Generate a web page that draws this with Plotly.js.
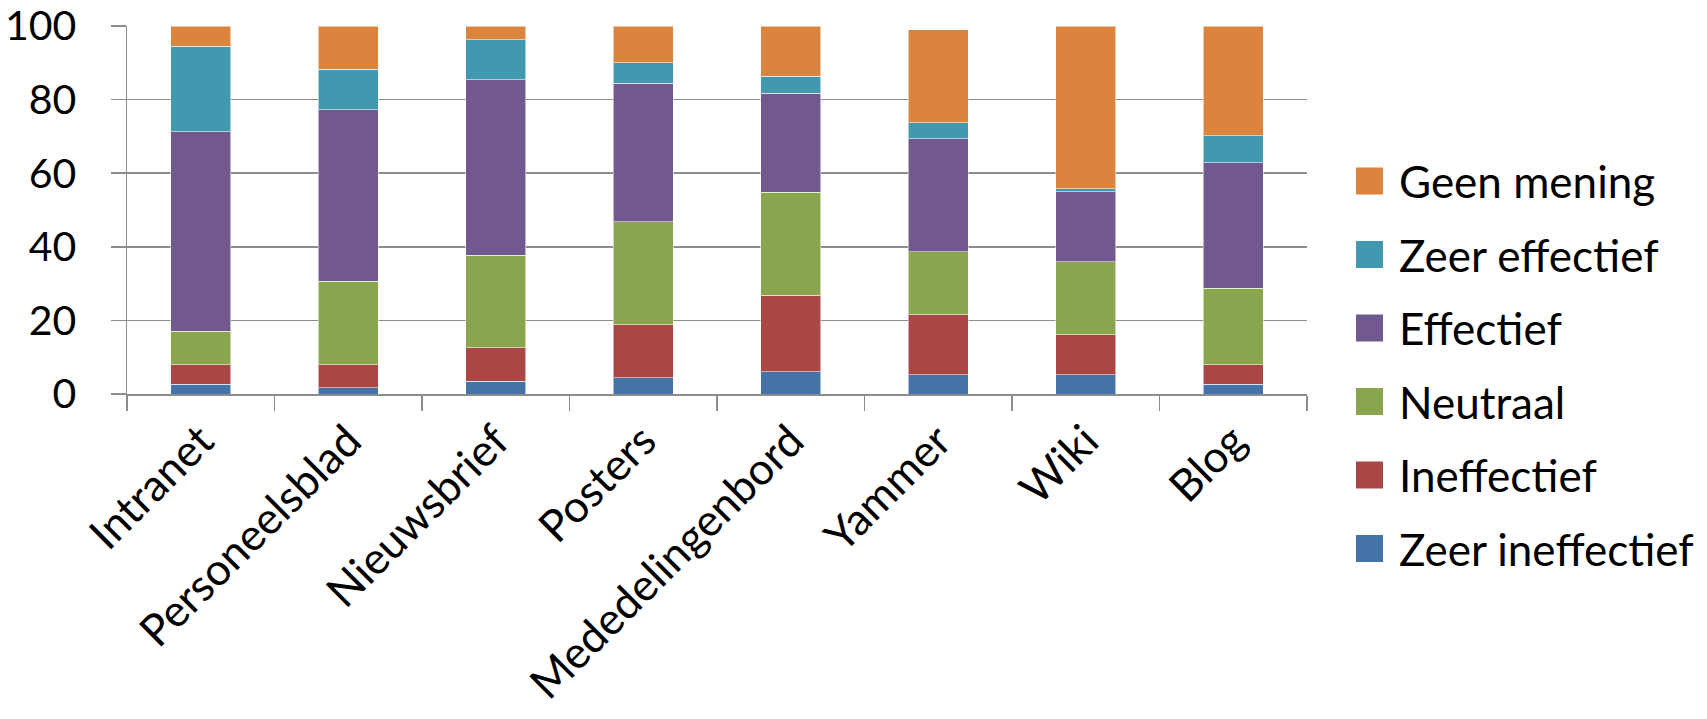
<!DOCTYPE html>
<html>
<head>
<meta charset="utf-8">
<script src="https://cdn.plot.ly/plotly-3.0.1.min.js"></script>
<style>
  html, body { margin: 0; padding: 0; background: #ffffff; }
  #chart { width: 1707px; height: 719px; }
</style>
</head>
<body>
<div id="chart"></div>
<script>
// Communication channels and how effective respondents rate them (percent)
const channels = ["Intranet", "Personeelsblad", "Nieuwsbrief", "Posters",
                  "Mededelingenbord", "Yammer", "Wiki", "Blog"];

const zeerIneffectief = [2.6, 1.7, 3.5, 4.4, 6.1, 5.3, 5.3, 2.6];
const ineffectief     = [5.4, 6.3, 9.1, 14.4, 20.8, 16.3, 10.8, 5.4];
const neutraal        = [9.0, 22.6, 25.1, 28.0, 27.9, 17.1, 19.8, 20.8];
const effectief       = [54.2, 46.7, 47.7, 37.6, 26.9, 30.6, 19.0, 34.0];
const zeerEffectief   = [23.3, 10.9, 10.8, 5.6, 4.6, 4.4, 0.9, 7.4];
const geenMening      = [5.5, 11.8, 3.8, 10.0, 13.7, 25.3, 44.2, 29.8];

const yTicks = [0, 20, 40, 60, 80, 100];

const series = [
  { name: "Zeer ineffectief", values: zeerIneffectief, color: "#4572A7" },
  { name: "Ineffectief",      values: ineffectief,     color: "#AA4643" },
  { name: "Neutraal",         values: neutraal,        color: "#89A54E" },
  { name: "Effectief",        values: effectief,       color: "#71588F" },
  { name: "Zeer effectief",   values: zeerEffectief,   color: "#4198AF" },
  { name: "Geen mening",      values: geenMening,      color: "#DB843D" }
];

const font = "Lato, Open Sans, sans-serif";
const W = 1707, H = 719;
const M = { l: 127, r: 400, t: 26, b: 325 };
const axisGrey = "#8c8c8c";

const traces = series.map(s => ({
  type: "bar",
  name: s.name,
  x: channels,
  y: s.values,
  marker: { color: s.color, line: { color: "rgba(255,255,255,0.55)", width: 1 } },
  hoverinfo: "x+y+name",
  showlegend: false
}));

// Legend drawn as large swatches with labels, top entry = last stacked series
const px2x = px => (px - M.l) / (W - M.l - M.r);
const px2y = py => (H - M.b - py) / (H - M.t - M.b);
const legendTop = 181, legendStep = 73.5, swatch = 27, swatchLeft = 1356, textLeft = 1397;
const legendOrder = series.slice().reverse();
const shapes = [], annotations = [];
legendOrder.forEach((s, i) => {
  const cy = legendTop + i * legendStep;
  shapes.push({
    type: "rect", xref: "paper", yref: "paper", layer: "above",
    x0: px2x(swatchLeft), x1: px2x(swatchLeft + swatch),
    y0: px2y(cy - swatch / 2), y1: px2y(cy + swatch / 2),
    fillcolor: s.color, line: { width: 0 }
  });
  annotations.push({
    xref: "paper", yref: "paper", x: px2x(textLeft), y: px2y(cy),
    xanchor: "left", yanchor: "middle", showarrow: false,
    text: s.name, font: { family: font, size: 44, color: "#000000" }
  });
});

const layout = {
  width: W,
  height: H,
  barmode: "stack",
  bargap: 0.595,
  paper_bgcolor: "#ffffff",
  plot_bgcolor: "#ffffff",
  margin: M,
  font: { family: font, color: "#000000", size: 40 },
  showlegend: false,
  xaxis: {
    type: "category",
    tickangle: -45,
    tickson: "boundaries",
    ticks: "outside",
    ticklen: 15,
    tickcolor: axisGrey,
    tickwidth: 1.5,
    ticklabelstandoff: 2,
    showline: true,
    linecolor: axisGrey,
    linewidth: 1.5,
    showgrid: false,
    tickfont: { family: font, size: 44, color: "#000000" }
  },
  yaxis: {
    range: [0, 100],
    tickvals: yTicks,
    ticktext: yTicks.map(String),
    ticks: "outside",
    ticklen: 15,
    tickcolor: axisGrey,
    tickwidth: 1.5,
    ticklabelstandoff: 26,
    showline: true,
    linecolor: axisGrey,
    linewidth: 1.5,
    showgrid: true,
    gridcolor: axisGrey,
    gridwidth: 1.5,
    zeroline: false,
    tickfont: { family: font, size: 41, color: "#000000" }
  },
  shapes: shapes,
  annotations: annotations
};

Plotly.newPlot("chart", traces, layout, { displayModeBar: false, staticPlot: true });
</script>
</body>
</html>
